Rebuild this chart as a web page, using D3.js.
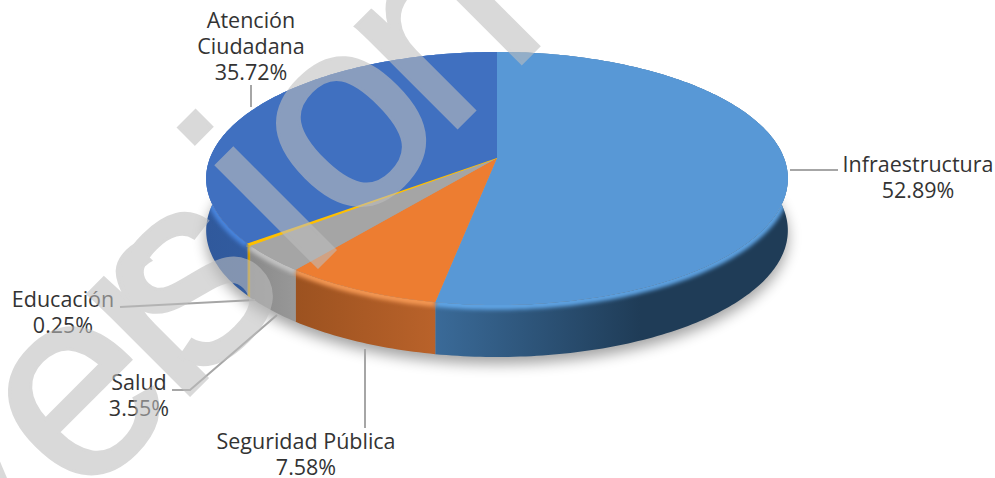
<!DOCTYPE html>
<html>
<head>
<meta charset="utf-8">
<script src="https://cdn.jsdelivr.net/npm/d3@7"></script>
<style>
    body { margin: 0; background: #fff; }
    text { font-family: "Open Sans", sans-serif; font-size: 21.5px; fill: #333; text-anchor: middle; }
    .leader { fill: none; stroke: #a6a6a6; stroke-width: 2; }
    .mark { font-family: "Liberation Sans", sans-serif; font-size: 272px; fill: #bebebe; stroke: #bebebe; stroke-width: 3; opacity: .58; text-anchor: start; }
</style>
</head>
<body>
<svg class="chart" width="995" height="478"></svg>
<script>
// chart data, clockwise from the top of the pie
var categories = ['Infraestructura', 'Seguridad Pública', 'Salud', 'Educación', 'Atención Ciudadana'];
var shares = [52.89, 7.58, 3.55, 0.25, 35.72];
var topColors = ['#5898d6', '#ed7d31', '#a5a5a5', '#ffc000', '#4070c0'];
var rimColors = ['#62a8ea', '#f79a55', '#c4c4c4', '#ffc000', '#4a86e0'];
var sideLight = ['#3a6a98', '#b9622a', '#989898', '#d8a400', '#3a69b4'];
var sideDark = ['#1f3c57', '#9c5220', '#8a8a8a', '#c09000', '#30599c'];

// label text and leader lines
var labelLines = [['Infraestructura', '52.89%'], ['Seguridad Pública', '7.58%'], ['Salud', '3.55%'], ['Educación', '0.25%'], ['Atención', 'Ciudadana', '35.72%']];
var labelX = [918, 306, 139, 63, 251];
var labelY = [172, 449, 390, 307, 28];
var leaders = [
    [[790, 170], [838, 170]],
    [[365, 349], [365, 428]],
    [[277, 315], [190, 390], [172, 390]],
    [[255, 300], [120, 307]],
    [[251, 85], [251, 107]]
];

var chart = d3.select('.chart');
var defs = chart.append('defs');
var depth = 52;

// the tilted pie is a circle seen in perspective, so the middle of the
// pie is not the middle of the ellipse
var cx = 497, radiusX = 287, k = -0.162, a = 97.6, b = 158;
function project(angle, dy) {
    var u = Math.sin(angle), v = -Math.cos(angle), w = 1 + k * v;
    return [cx + radiusX * u / w, (a * v + b) / w + (dy || 0)];
}

var slices = d3.pie().sort(null).value(function (d) { return d; })(shares);
var line = d3.line();

function rim(a0, a1, dy) {
    var n = Math.max(2, Math.ceil((a1 - a0) * 60));
    return d3.range(n + 1).map(function (i) { return project(a0 + (a1 - a0) * i / n, dy); });
}

function blur(id, amount) {
    defs.append('filter').attr('id', id)
        .attr('x', '-20%').attr('y', '-20%').attr('width', '140%').attr('height', '140%')
        .append('feGaussianBlur').attr('stdDeviation', amount);
}
blur('shadow', 7);
blur('soft', 2.2);

// soft shadow below the pie
chart.append('path')
    .attr('d', line(rim(0, 2 * Math.PI, depth + 7)) + 'Z')
    .attr('fill', '#000').attr('opacity', .36)
    .attr('filter', 'url(#shadow)');

// side walls, the top faces cover whatever is behind
var wallClip = defs.append('clipPath').attr('id', 'walls');
slices.forEach(function (s, i) {
    var pts = rim(s.startAngle, s.endAngle, 0);
    var low = rim(s.startAngle, s.endAngle, depth).reverse();
    var xs = d3.extent(pts, function (p) { return p[0]; });
    var id = 'side' + i;
    var grad = defs.append('linearGradient').attr('id', id)
        .attr('gradientUnits', 'userSpaceOnUse')
        .attr('x1', i === 0 ? 437 : xs[0]).attr('x2', i === 0 ? 640 : xs[1]).attr('y1', 0).attr('y2', 0);
    grad.append('stop').attr('offset', 0).attr('stop-color', i === 0 ? sideLight[i] : sideDark[i]);
    grad.append('stop').attr('offset', 1).attr('stop-color', i === 0 ? sideDark[i] : sideLight[i]);
    var wall = line(pts.concat(low)) + 'Z';
    chart.append('path').attr('d', wall).attr('fill', 'url(#' + id + ')');
    wallClip.append('path').attr('d', wall);
});

// bevel along the edge of the top face, only where a wall is showing
var bevel = chart.append('g').attr('clip-path', 'url(#walls)');
slices.forEach(function (s, i) {
    bevel.append('path')
        .attr('d', line(rim(s.startAngle, s.endAngle, 1)))
        .attr('fill', 'none')
        .attr('stroke', rimColors[i]).attr('stroke-width', 7)
        .attr('filter', 'url(#soft)');
});

// top faces
slices.forEach(function (s, i) {
    chart.append('path')
        .attr('d', line([[cx, b]].concat(rim(s.startAngle, s.endAngle, 0))) + 'Z')
        .attr('fill', topColors[i])
        .attr('stroke', categories[i] === 'Educación' ? topColors[i] : 'none')
        .attr('stroke-width', 1);
});

// leader lines
chart.selectAll('.leader').data(leaders).enter().append('path')
    .attr('class', 'leader')
    .attr('d', function (d) { return line(d); });

// labels
categories.forEach(function (c, i) {
    var t = chart.append('text').attr('transform', 'translate(' + labelX[i] + ',' + labelY[i] + ')');
    t.selectAll('tspan').data(labelLines[i]).enter().append('tspan')
        .attr('x', 0)
        .attr('y', function (d, j) { return j * 26; })
        .text(function (d) { return d; });
});

// watermark running across the whole picture, dx adds up letter by letter
chart.append('text').attr('class', 'mark')
    .attr('transform', 'translate(-38,623) rotate(-45)')
    .attr('dx', '0 0 -14 -60 15 1 -16')
    .text('Version');
</script>
</body>
</html>
